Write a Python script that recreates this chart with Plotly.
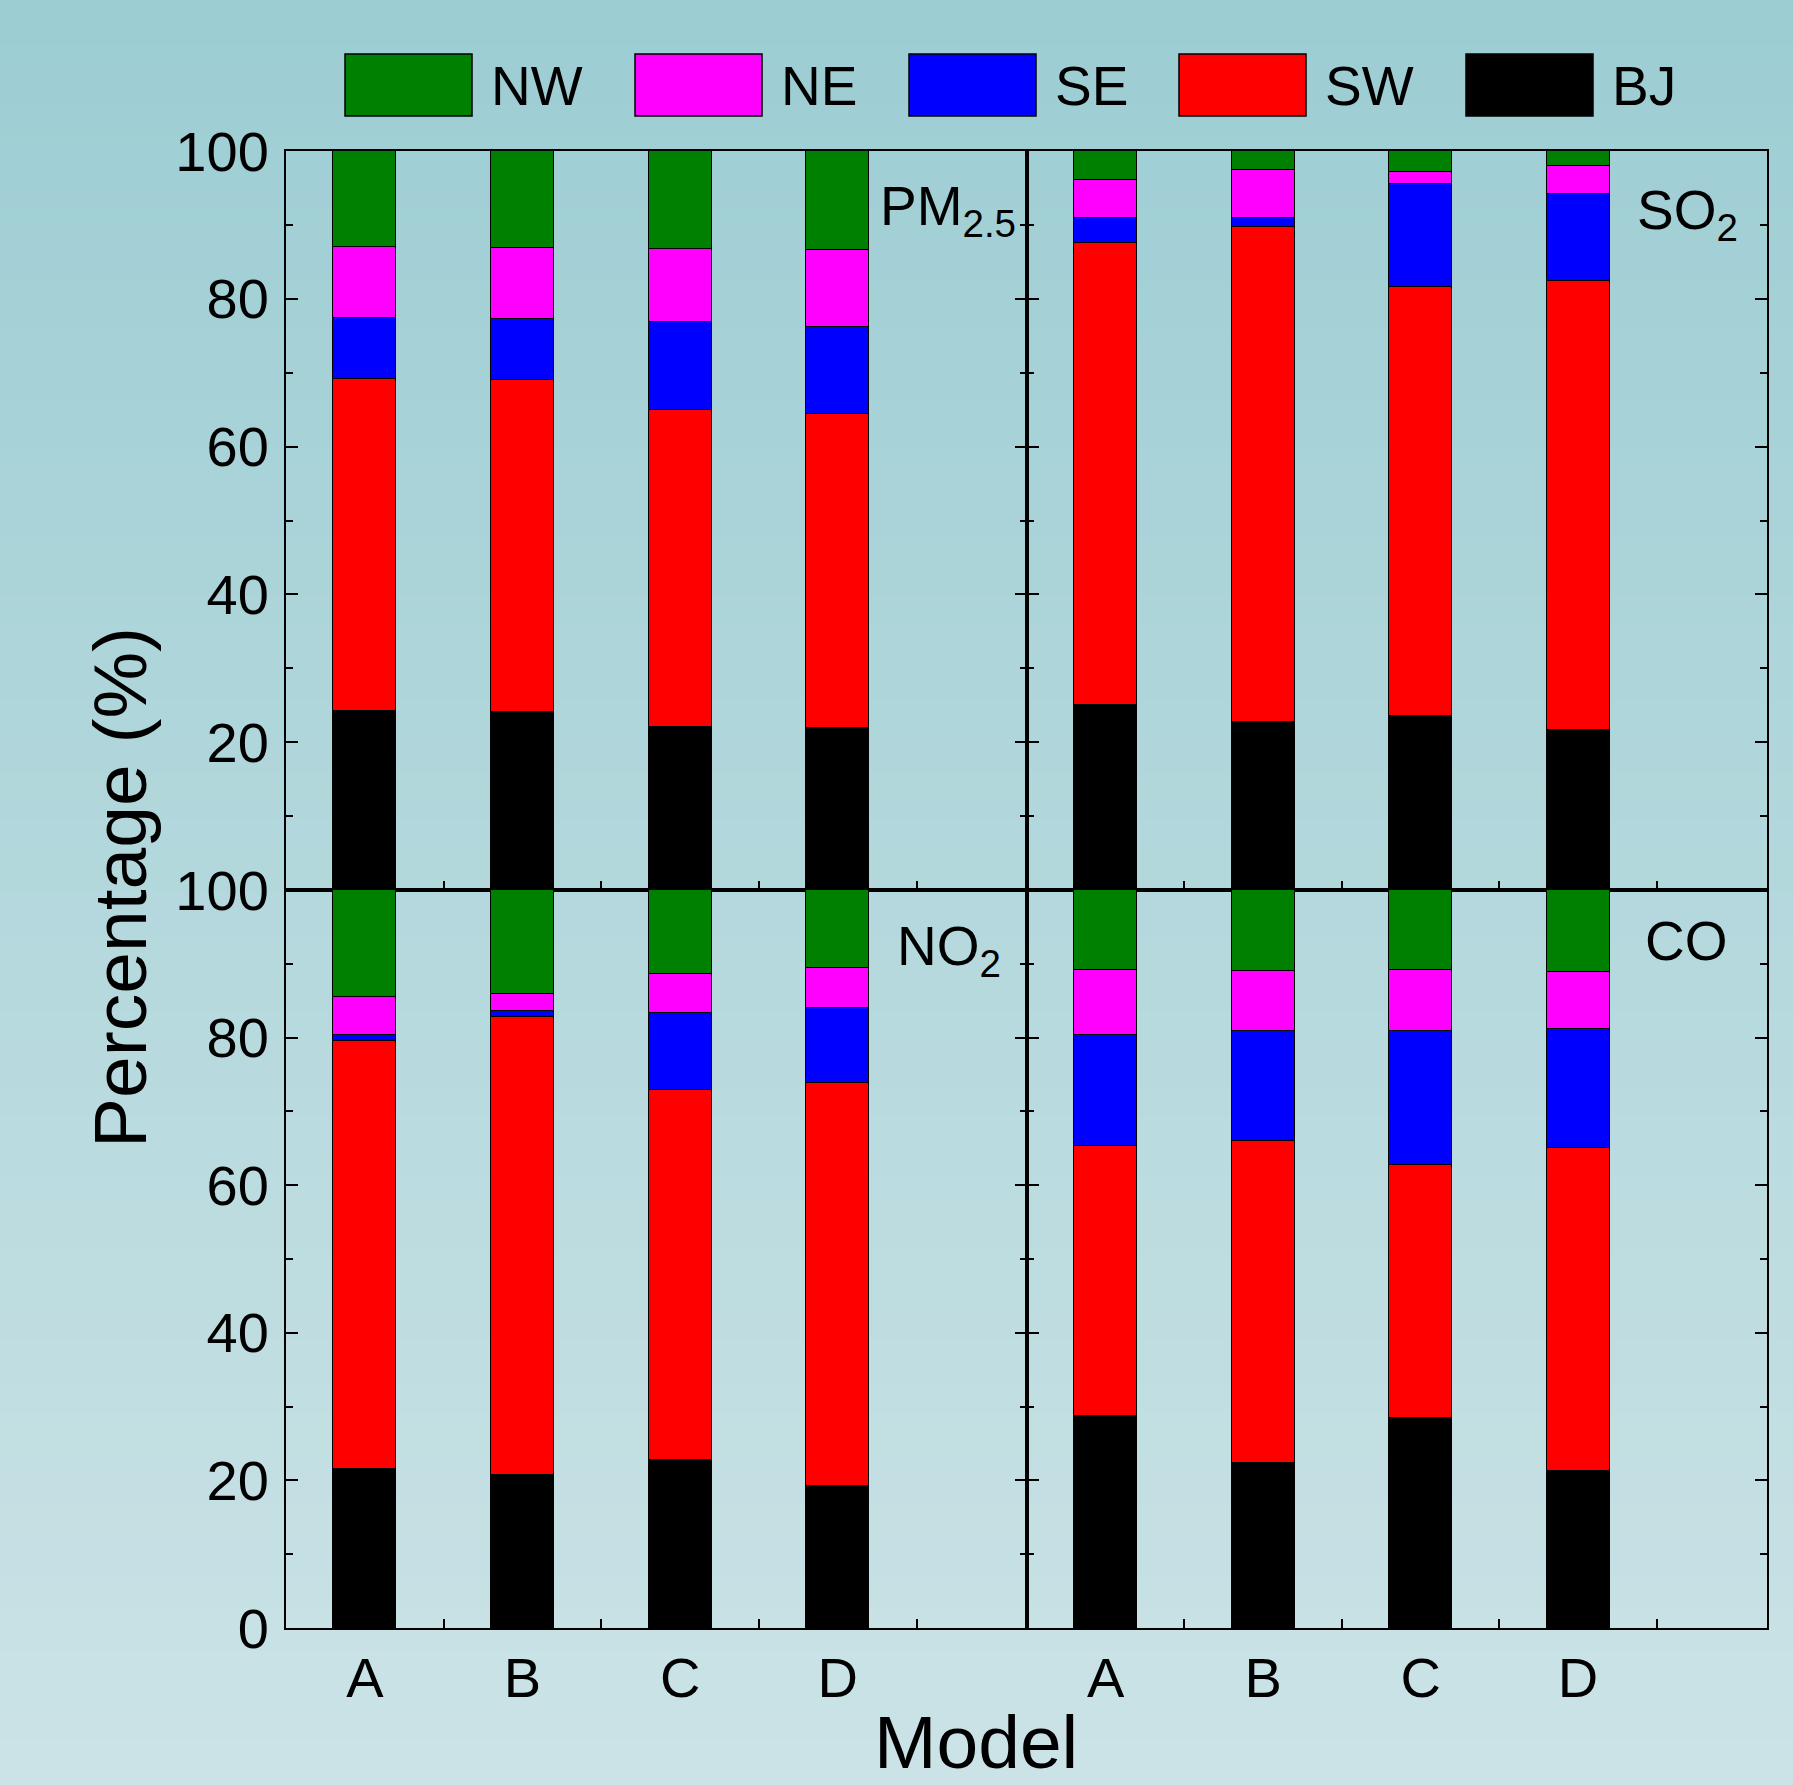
import plotly.graph_objects as go

models = ["A", "B", "C", "D"]
series = ["BJ", "SW", "SE", "NE", "NW"]
colors = {"BJ": "#000000", "SW": "#FF0000", "SE": "#0000FF", "NE": "#FF00FF", "NW": "#008000"}
legend_order = ["NW", "NE", "SE", "SW", "BJ"]

# percentages per region (stacked, sums to 100)
pm25_BJ = [24.2, 24.1, 22.0, 21.9]
pm25_SW = [44.9, 44.9, 43.0, 42.5]
pm25_SE = [8.3, 8.2, 11.8, 11.8]
pm25_NE = [9.6, 9.7, 10.0, 10.4]
pm25_NW = [13.0, 13.1, 13.2, 13.4]

so2_BJ = [25.0, 22.7, 23.6, 21.6]
so2_SW = [62.5, 67.0, 58.0, 60.8]
so2_SE = [3.5, 1.3, 14.0, 11.8]
so2_NE = [5.1, 6.4, 1.6, 3.8]
so2_NW = [3.9, 2.6, 2.8, 2.0]

no2_BJ = [21.5, 20.7, 22.8, 19.2]
no2_SW = [58.0, 62.1, 50.1, 54.7]
no2_SE = [0.9, 0.8, 10.4, 10.1]
no2_NE = [5.1, 2.3, 5.3, 5.4]
no2_NW = [14.5, 14.1, 11.4, 10.6]

co_BJ = [28.7, 22.3, 28.4, 21.3]
co_SW = [36.6, 43.7, 34.4, 43.8]
co_SE = [15.1, 14.9, 18.1, 16.0]
co_NE = [8.8, 8.1, 8.3, 7.8]
co_NW = [10.8, 11.0, 10.8, 11.1]

panels = [
    ("PM<sub>2.5</sub>", {"BJ": pm25_BJ, "SW": pm25_SW, "SE": pm25_SE, "NE": pm25_NE, "NW": pm25_NW}),
    ("SO<sub>2</sub>", {"BJ": so2_BJ, "SW": so2_SW, "SE": so2_SE, "NE": so2_NE, "NW": so2_NW}),
    ("NO<sub>2</sub>", {"BJ": no2_BJ, "SW": no2_SW, "SE": no2_SE, "NE": no2_NE, "NW": no2_NW}),
    ("CO", {"BJ": co_BJ, "SW": co_SW, "SE": co_SE, "NE": co_NE, "NW": co_NW}),
]

W, H = 1793, 1785
FONT = "Liberation Sans, Arial, sans-serif"

def px_x(p):
    return p / W

def px_y(p):
    return 1 - p / H

xl, xm, xr = 286, 1027, 1767
yt, ym, yb = 151, 890, 1628
xdoms = [[px_x(xl), px_x(xm)], [px_x(xm), px_x(xr)]]
ydoms = [[px_y(ym), px_y(yt)], [px_y(yb), px_y(ym)]]

fig = go.Figure()
xpos = [1, 2, 3, 4]
layout = {}
for i, (label, data) in enumerate(panels):
    row, col = divmod(i, 2)
    n = i + 1
    xa = "x" if n == 1 else f"x{n}"
    ya = "y" if n == 1 else f"y{n}"
    for s in series:
        fig.add_trace(go.Bar(
            x=xpos, y=data[s], name=s, xaxis=xa, yaxis=ya, width=0.4,
            marker=dict(color=colors[s], line=dict(color="black", width=1.5)),
            showlegend=False,
        ))
    layout[f"xaxis{'' if n == 1 else n}"] = dict(
        domain=xdoms[col], anchor=ya, range=[0.5, 5.2],
        tickvals=xpos, ticktext=models if row == 1 else ["", "", "", ""],
        showticklabels=(row == 1), ticks="", showgrid=False, zeroline=False,
        showline=True, linecolor="black", linewidth=2, mirror=True,
        minor=dict(tickvals=[1.5, 2.5, 3.5, 4.5], ticks="inside", ticklen=9, tickwidth=2, tickcolor="black"),
        tickfont=dict(family=FONT, size=56, color="black"), ticklabelstandoff=0,
    )
    yt_vals = [20, 40, 60, 80, 100] if row == 0 else [0, 20, 40, 60, 80, 100]
    layout[f"yaxis{'' if n == 1 else n}"] = dict(
        domain=ydoms[row], anchor=xa, range=[0, 100],
        tickvals=yt_vals, showticklabels=(col == 0),
        ticks="inside", ticklen=12, tickwidth=2, tickcolor="black",
        minor=dict(tickvals=[10, 30, 50, 70, 90], ticks="inside", ticklen=7, tickwidth=2, tickcolor="black"),
        showgrid=False, zeroline=False,
        showline=True, linecolor="black", linewidth=2, mirror="ticks",
        tickfont=dict(family=FONT, size=56, color="black"), ticklabelstandoff=4,
    )

fig.update_layout(**layout)

shapes = []
# background gradient
top_c = (156, 205, 211)
bot_c = (203, 227, 230)
N = 120
for k in range(N):
    t = k / (N - 1)
    c = tuple(int(round(top_c[j] + (bot_c[j] - top_c[j]) * t)) for j in range(3))
    shapes.append(dict(type="rect", xref="paper", yref="paper", layer="below",
                       x0=0, x1=1, y0=1 - (k + 1) / N - 0.001, y1=1 - k / N,
                       fillcolor=f"rgb{c}", line=dict(width=0)))

annotations = []
# legend (manual, large swatches)
box_x = [345, 635, 909, 1179, 1466]
for s, bx in zip(legend_order, box_x):
    shapes.append(dict(type="rect", xref="paper", yref="paper",
                       x0=px_x(bx), x1=px_x(bx + 127), y0=px_y(116), y1=px_y(54),
                       fillcolor=colors[s], line=dict(color="black", width=1.5)))
    annotations.append(dict(xref="paper", yref="paper", x=px_x(bx + 144), y=px_y(86),
                            xanchor="left", yanchor="middle", showarrow=False,
                            text=s, font=dict(family=FONT, size=55, color="black")))

# panel labels
lab_pos = [(1018, 210), (1740, 214), (1003, 950), (1730, 941)]
for (label, _), (lx, ly) in zip(panels, lab_pos):
    annotations.append(dict(xref="paper", yref="paper", x=px_x(lx), y=px_y(ly),
                            xanchor="right", yanchor="middle", showarrow=False,
                            text=label, font=dict(family=FONT, size=55, color="black")))

annotations.append(dict(xref="paper", yref="paper", x=px_x(120), y=px_y(888),
                        xanchor="center", yanchor="middle", showarrow=False, textangle=-90,
                        text="Percentage (%)", font=dict(family=FONT, size=75, color="black")))
annotations.append(dict(xref="paper", yref="paper", x=px_x(976), y=px_y(1742),
                        xanchor="center", yanchor="middle", showarrow=False,
                        text="Model", font=dict(family=FONT, size=75, color="black")))

fig.update_layout(
    width=W, height=H, margin=dict(l=0, r=0, t=0, b=0, autoexpand=False),
    paper_bgcolor="rgb(180,216,220)", plot_bgcolor="rgba(0,0,0,0)",
    barmode="stack", bargap=0, shapes=shapes, annotations=annotations,
    showlegend=False,
)

fig.write_html("out.html")
